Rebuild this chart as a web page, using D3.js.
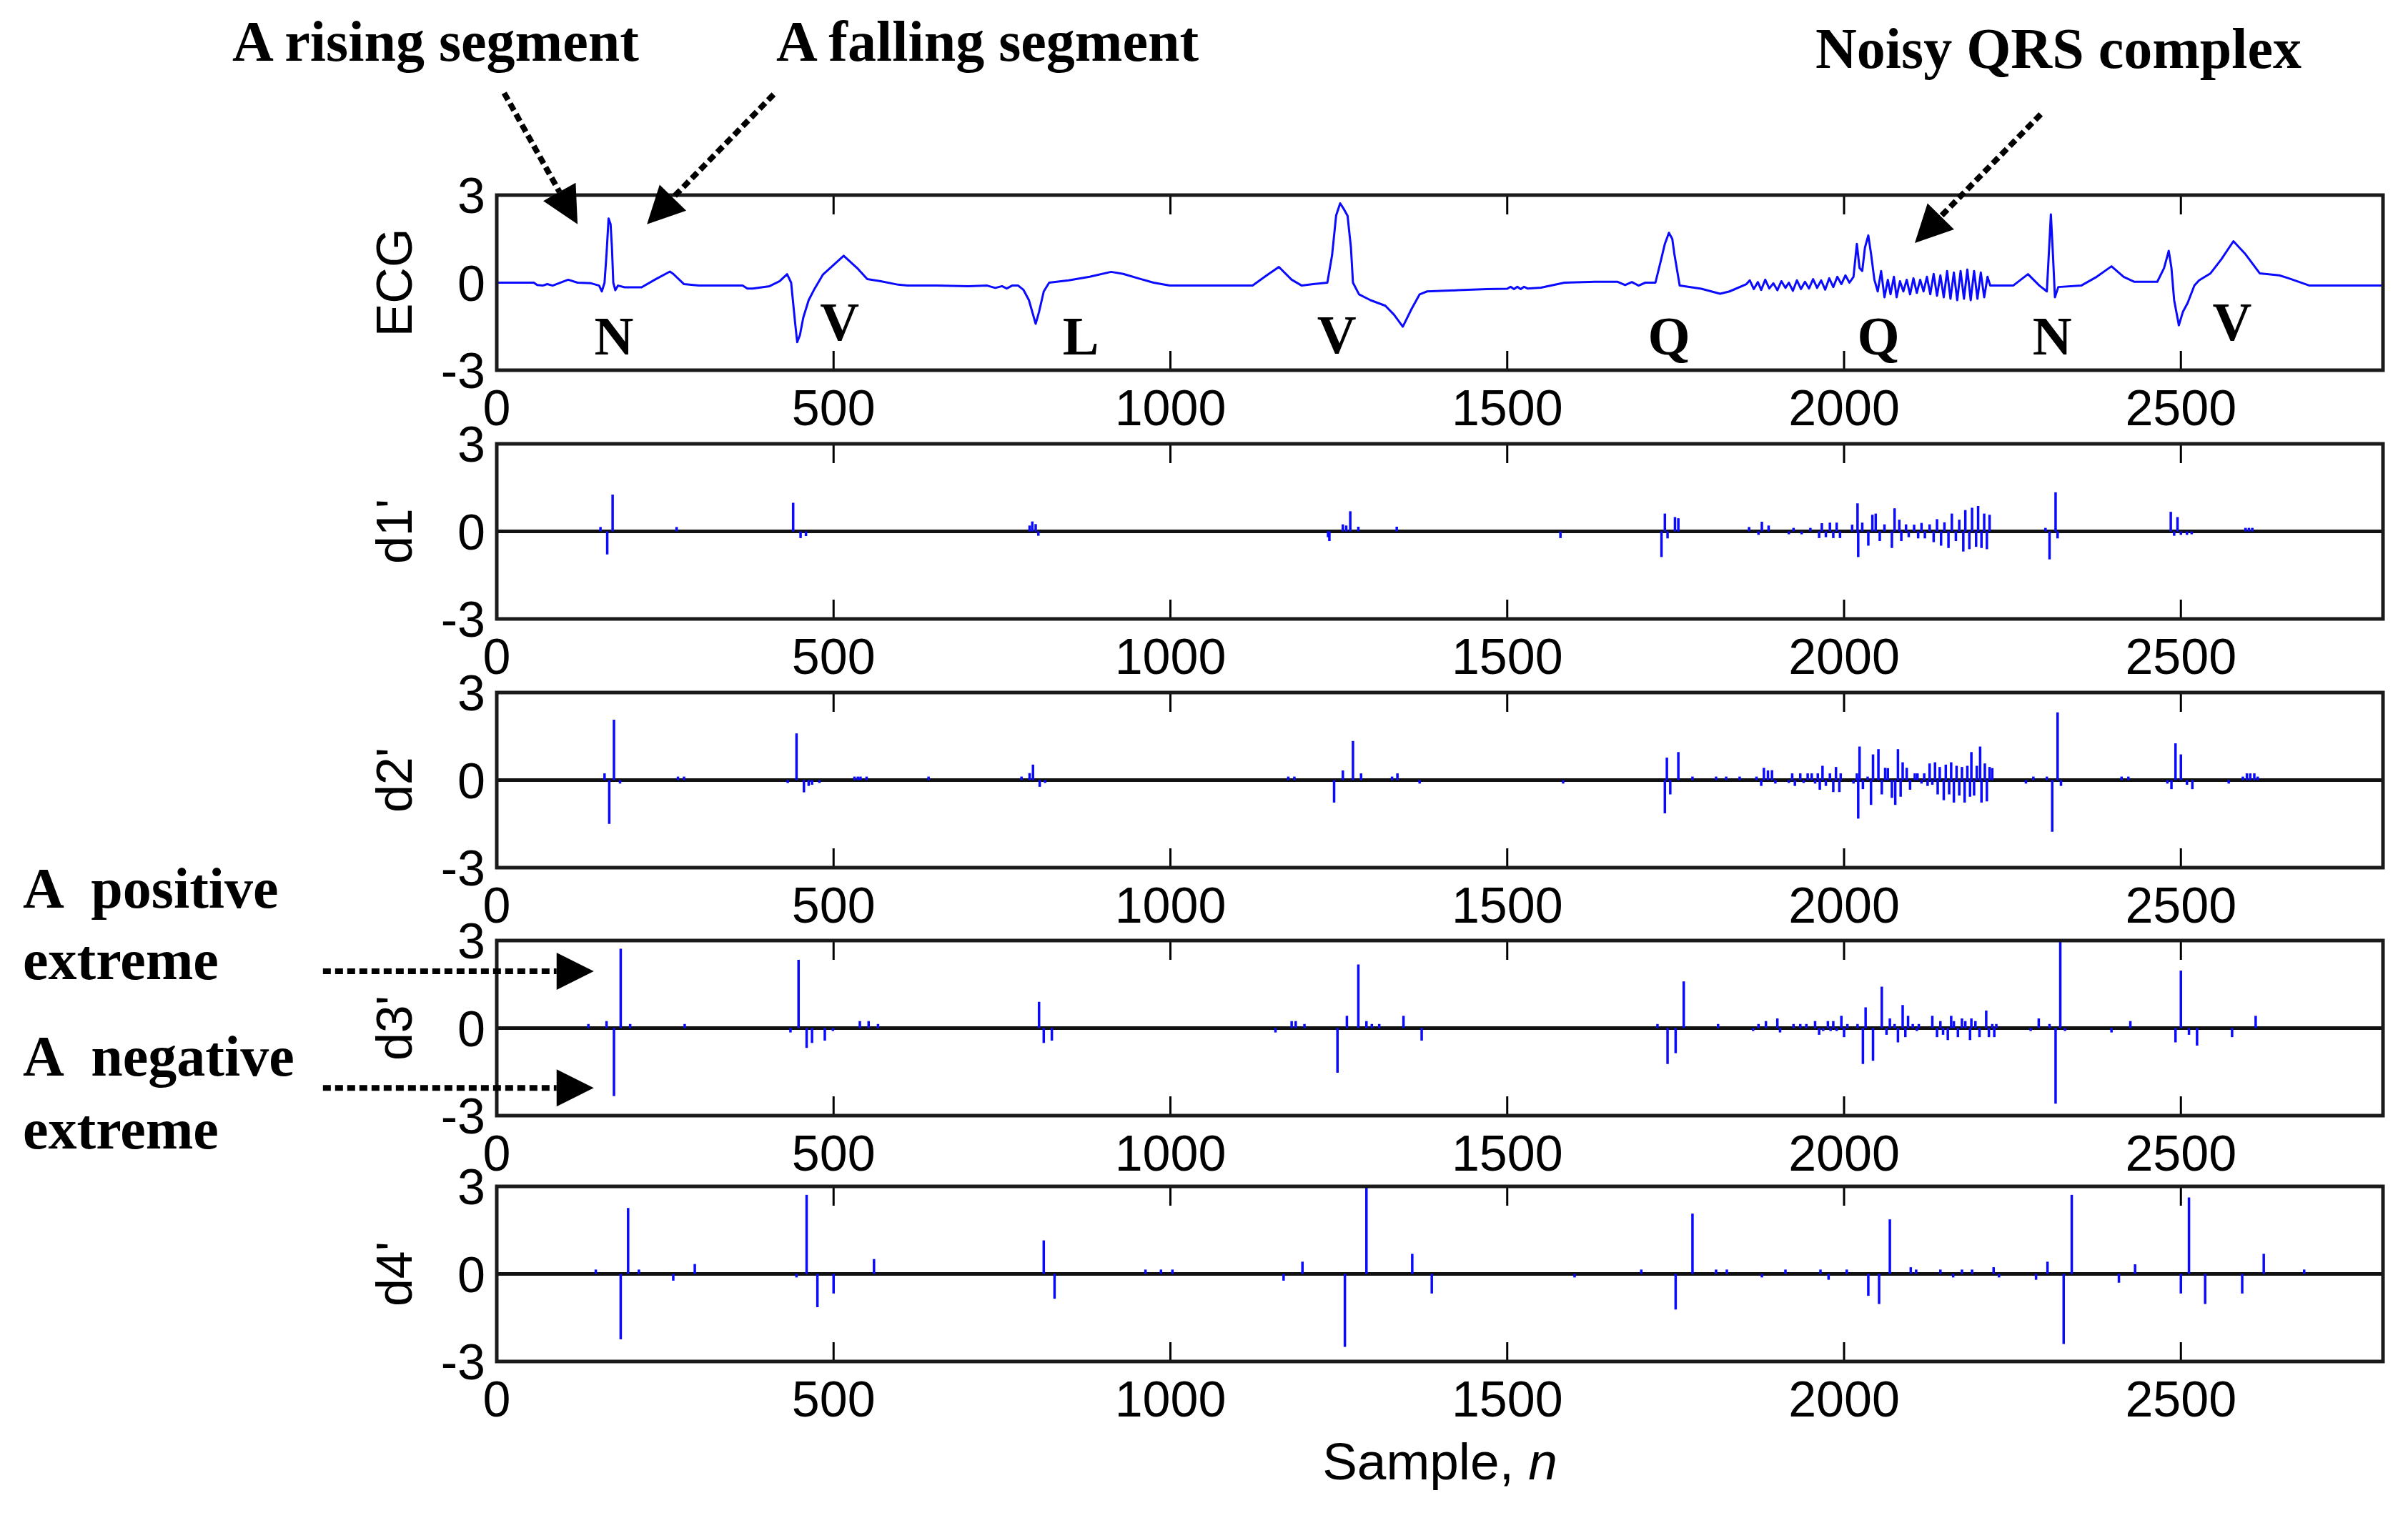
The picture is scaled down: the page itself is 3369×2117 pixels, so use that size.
<!doctype html>
<html lang="en">

<head>
    <meta charset="utf-8">
    <title>ECG and derivative extremes</title>
    <script src="https://cdn.jsdelivr.net/npm/d3@7"></script>
    <style>
        body { margin: 0; background: #ffffff; }
        svg { display: block; }
        .tick-label { font-family: "Liberation Sans", Arial, sans-serif; font-size: 70px; fill: #000; }
        .note { font-family: "Liberation Serif", "Times New Roman", serif; font-weight: bold; fill: #000; }
    </style>
</head>

<body>
    <svg></svg>
    <script>
        var width = 3369;
        var height = 2117;

        // ECG trace: [sample, amplitude]
        var ecg = [[0, 0], [40, 0], [55, 0], [60, -0.08], [68, -0.1], [75, -0.05], [83, -0.1], [92, -0.02], [106, 0.1], [120, 0.0],
            [140, -0.02], [152, -0.1], [156, -0.3], [160, 0.0], [163, 1.0], [166, 2.2], [169, 2.0], [171, 1.2], [173, 0.0], [176, -0.26],
            [180, -0.1], [190, -0.16], [215, -0.16], [236, 0.12], [257, 0.38], [262, 0.3], [278, -0.05], [300, -0.1], [365, -0.1],
            [372, -0.2], [380, -0.2], [405, -0.12], [420, 0.05], [431, 0.29], [437, 0.0], [443, -1.4], [446, -2.04], [450, -1.8],
            [455, -1.2], [463, -0.6], [472, -0.2], [484, 0.27], [515, 0.92], [535, 0.5], [550, 0.12], [570, 0.05], [596, -0.07],
            [610, -0.1], [653, -0.1], [700, -0.12], [728, -0.1], [740, -0.18], [750, -0.12], [757, -0.2], [765, -0.1], [774, -0.1],
            [782, -0.25], [790, -0.6], [800, -1.41], [805, -1.0], [812, -0.3], [820, 0.0], [849, 0.08], [880, 0.2], [912, 0.37],
            [930, 0.3], [952, 0.15], [975, 0.0], [999, -0.1], [1065, -0.1], [1122, -0.1], [1140, 0.2], [1161, 0.54], [1180, 0.1],
            [1195, -0.1], [1212, -0.05], [1233, 0.0], [1240, 0.94], [1246, 2.3], [1252, 2.72], [1258, 2.5], [1263, 2.29], [1268, 1.2],
            [1271, 0.0], [1280, -0.4], [1297, -0.6], [1319, -0.79], [1332, -1.1], [1345, -1.51], [1358, -0.9], [1370, -0.4],
            [1381, -0.3], [1427, -0.26], [1470, -0.22], [1500, -0.21], [1505, -0.14], [1510, -0.22], [1515, -0.14], [1520, -0.22],
            [1525, -0.14], [1530, -0.2], [1550, -0.17], [1585, 0.0], [1630, 0.03], [1664, 0.03], [1675, -0.08], [1685, 0.02],
            [1695, -0.1], [1705, 0.0], [1720, 0.0], [1728, 0.75], [1734, 1.33], [1740, 1.71], [1745, 1.5], [1748, 1.0], [1756, -0.1],
            [1788, -0.21], [1816, -0.38], [1830, -0.3], [1855, -0.05],
            [1860, 0.08], [1866, -0.22], [1872, 0.02], [1877, -0.25], [1883, 0.1], [1889, -0.2], [1895, -0.02], [1901, -0.26],
            [1907, 0.05], [1913, -0.18], [1918, 0.0], [1924, -0.28], [1930, 0.08], [1936, -0.22], [1942, 0.03], [1948, -0.2],
            [1954, 0.12], [1960, -0.18], [1966, 0.08], [1972, -0.24], [1978, 0.15], [1984, -0.15], [1990, 0.2], [1996, -0.05],
            [2002, 0.25], [2008, 0.0], [2014, 0.2],
            [2019, 1.33], [2023, 0.5], [2027, 0.4], [2031, 1.2], [2036, 1.62], [2040, 1.0], [2045, 0.1], [2050, -0.3],
            [2055, 0.4], [2060, -0.5], [2065, 0.1], [2069, -0.4], [2074, 0.2], [2078, -0.5], [2083, 0.05], [2088, -0.3],
            [2093, 0.1], [2098, -0.4], [2103, 0.15], [2108, -0.35], [2113, 0.1], [2118, -0.3], [2123, 0.2], [2128, -0.4],
            [2133, 0.3], [2138, -0.45], [2143, 0.25], [2148, -0.5], [2153, 0.4], [2158, -0.55], [2163, 0.35], [2168, -0.6],
            [2173, 0.4], [2178, -0.55], [2183, 0.45], [2188, -0.6], [2193, 0.4], [2198, -0.55], [2203, 0.35], [2208, -0.5],
            [2213, 0.2], [2217, -0.1],
            [2251, -0.1], [2273, 0.29], [2290, -0.1], [2301, -0.3], [2304, 1.0], [2307, 2.34], [2310, 1.0], [2313, -0.5],
            [2318, -0.15], [2352, -0.1], [2375, 0.2], [2397, 0.56], [2415, 0.2], [2431, 0.03], [2465, 0.03], [2475, 0.5],
            [2482, 1.09], [2486, 0.5], [2490, -0.6], [2497, -1.46], [2503, -1.0], [2510, -0.7], [2520, -0.1], [2527, 0.08],
            [2544, 0.32], [2560, 0.8], [2578, 1.42], [2595, 1.0], [2617, 0.32], [2646, 0.25], [2660, 0.15], [2691, -0.1], [2800, -0.1]];

        // derivative extremes: [sample, value]
        var d1 = [[154, 0.15], [164, -0.79], [172, 1.26], [267, 0.15], [440, 0.98], [451, -0.23], [459, -0.16], [791, 0.2],
            [795, 0.34], [800, 0.25], [804, -0.15], [1234, -0.2], [1236, -0.33], [1256, 0.24], [1261, 0.2], [1267, 0.69],
            [1279, 0.16], [1336, 0.16], [1579, -0.23], [1729, -0.88], [1734, 0.61], [1738, -0.24], [1749, 0.49], [1754, 0.45],
            [1859, 0.15], [1873, -0.12], [1878, 0.33], [1888, 0.2], [1918, -0.1], [1925, 0.12], [1937, -0.1], [1950, 0.12],
            [1963, -0.23], [1967, 0.28], [1973, -0.2], [1979, 0.3], [1984, -0.23], [1989, 0.3], [1994, -0.23], [2012, 0.23],
            [2020, 0.96], [2021, -0.88], [2027, 0.3], [2036, -0.49], [2042, 0.57], [2047, 0.61], [2053, -0.33], [2060, 0.24],
            [2071, -0.57], [2075, 0.79], [2082, 0.4], [2085, -0.33], [2092, 0.24], [2096, -0.2], [2104, 0.23], [2110, -0.24],
            [2115, 0.29], [2120, -0.24], [2127, 0.24], [2133, -0.37], [2138, 0.42], [2144, -0.49], [2149, 0.31], [2155, -0.57],
            [2160, 0.61], [2166, -0.33], [2171, 0.4], [2177, -0.69], [2180, 0.73], [2186, -0.61], [2190, 0.81], [2196, -0.53],
            [2199, 0.87], [2204, -0.57], [2208, 0.61], [2212, -0.61], [2216, 0.57], [2299, 0.12], [2305, -0.96], [2314, 1.34],
            [2317, -0.24], [2485, 0.67], [2490, -0.15], [2495, 0.49], [2500, -0.12], [2509, -0.12], [2516, -0.1], [2596, 0.12],
            [2601, 0.12], [2606, 0.12]];

        var d2 = [[160, 0.23], [167, -1.5], [174, 2.07], [183, -0.12], [269, 0.12], [278, 0.12], [432, -0.1], [445, 1.6],
            [456, -0.42], [463, -0.2], [468, -0.16], [479, -0.1], [531, 0.12], [536, 0.12], [540, 0.12], [549, 0.12], [641, 0.12],
            [779, 0.12], [791, 0.24], [796, 0.53], [806, -0.23], [814, -0.1], [1175, 0.12], [1184, 0.12], [1243, -0.77],
            [1256, 0.33], [1271, 1.34], [1283, 0.23], [1329, 0.12], [1337, 0.23], [1370, -0.12], [1583, -0.12], [1734, -1.14],
            [1737, 0.77], [1742, -0.49], [1754, 0.96], [1775, 0.12], [1810, 0.12], [1825, 0.12], [1845, 0.12],
            [1870, 0.12], [1877, -0.2], [1881, 0.42], [1887, 0.33], [1893, 0.34], [1898, -0.12], [1918, -0.1], [1923, 0.23],
            [1927, -0.2], [1935, 0.23], [1940, -0.1], [1946, 0.23], [1952, 0.23], [1957, -0.12], [1961, 0.23], [1964, -0.33],
            [1968, 0.49], [1973, -0.2], [1979, 0.23], [1984, -0.41], [1988, 0.45], [1993, -0.41], [1995, 0.23], [2014, -0.12],
            [2019, 0.23], [2021, -1.32], [2023, 1.15], [2028, -0.31], [2035, 0.12], [2040, -0.85], [2043, 0.88], [2051, 1.06],
            [2056, -0.49], [2061, 0.42], [2065, 0.41], [2071, -0.61], [2076, -0.85], [2080, 1.06], [2084, -0.57], [2087, 0.61],
            [2093, 0.42], [2098, -0.33], [2105, 0.23], [2109, 0.23], [2115, -0.12], [2119, 0.23], [2124, -0.2], [2127, 0.57],
            [2131, -0.16], [2135, 0.61], [2139, -0.49], [2142, 0.45], [2148, -0.69], [2151, 0.53], [2156, -0.49], [2159, 0.61],
            [2163, -0.77], [2167, 0.49], [2171, -0.53], [2175, 0.45], [2179, -0.77], [2183, 0.49], [2187, -0.57], [2189, 0.96],
            [2193, -0.53], [2197, 0.49], [2202, 1.15], [2204, -0.77], [2209, 0.57], [2212, -0.73], [2216, 0.45], [2220, 0.41],
            [2270, -0.12], [2281, 0.12], [2301, 0.12], [2309, -1.77], [2317, 2.32], [2322, -0.2], [2412, 0.12], [2422, 0.12],
            [2480, -0.12], [2486, -0.31], [2492, 1.26], [2500, 0.88], [2509, -0.16], [2517, -0.31], [2571, -0.12], [2592, 0.12],
            [2598, 0.23], [2603, 0.23], [2609, 0.23], [2614, 0.12]];

        var d3v = [[136, 0.14], [163, 0.24], [174, -2.33], [184, 2.72], [198, 0.14], [279, 0.14], [436, -0.15], [448, 2.34],
            [460, -0.68], [468, -0.51], [487, -0.43], [499, -0.1], [539, 0.24], [552, 0.24], [566, 0.14], [805, 0.9], [812, -0.51],
            [824, -0.43], [1156, -0.15], [1180, 0.24], [1186, 0.24], [1199, 0.14], [1248, -1.53], [1262, 0.42], [1279, 2.18],
            [1291, 0.24], [1299, 0.14], [1310, 0.14], [1346, 0.42], [1373, -0.43], [1723, 0.14], [1738, -1.23], [1750, -0.86],
            [1762, 1.6], [1813, 0.14], [1865, -0.1], [1873, 0.14], [1884, 0.24], [1901, 0.33], [1905, -0.15], [1925, 0.14],
            [1935, 0.14], [1944, 0.14], [1957, 0.24], [1963, -0.23], [1969, -0.1], [1976, 0.24], [1980, -0.1], [1984, 0.24],
            [1989, -0.1], [1996, 0.42], [2000, -0.31], [2005, 0.14], [2020, 0.14], [2028, -1.23], [2032, 0.71], [2043, -1.12],
            [2056, 1.42], [2063, -0.23], [2068, 0.33], [2075, 0.14], [2080, -0.49], [2087, 0.79], [2091, -0.31], [2095, 0.42],
            [2102, 0.14], [2108, -0.1], [2111, 0.14], [2131, 0.42], [2138, -0.31], [2143, 0.24], [2147, -0.23], [2154, -0.41],
            [2159, 0.42], [2163, 0.24], [2169, -0.31], [2175, 0.33], [2180, 0.24], [2187, -0.41], [2189, 0.33], [2195, 0.24],
            [2201, -0.31], [2211, 0.6], [2215, -0.31], [2220, 0.14], [2223, -0.31], [2226, 0.14], [2277, -0.1], [2289, 0.33],
            [2305, 0.14], [2314, -2.59], [2321, 3.0], [2328, -0.1], [2397, -0.15], [2425, 0.24], [2492, -0.49], [2500, 1.97],
            [2512, -0.23], [2524, -0.6], [2576, -0.31], [2611, 0.42]];

        var d4 = [[147, 0.15], [184, -2.24], [195, 2.26], [211, 0.15], [262, -0.23], [294, 0.34], [445, -0.12], [460, 2.71],
            [476, -1.14], [500, -0.67], [560, 0.51], [812, 1.15], [828, -0.85], [963, 0.15], [986, 0.15], [1003, 0.15],
            [1168, -0.23], [1196, 0.42], [1259, -2.5], [1291, 3.0], [1359, 0.69], [1388, -0.67], [1600, -0.12], [1699, 0.15],
            [1750, -1.22], [1775, 2.07], [1810, 0.15], [1826, 0.15], [1878, -0.12], [1913, 0.15], [1965, 0.15], [1977, -0.2],
            [2004, 0.15], [2036, -0.75], [2052, -1.03], [2068, 1.87], [2099, 0.23], [2107, 0.15], [2143, 0.15], [2162, -0.12],
            [2175, 0.15], [2190, 0.15], [2222, 0.23], [2230, -0.12], [2285, -0.2], [2302, 0.42], [2326, -2.4], [2338, 2.71],
            [2408, -0.3], [2432, 0.33], [2500, -0.67], [2512, 2.62], [2536, -1.03], [2591, -0.67], [2623, 0.69], [2683, 0.15]];

        var panelNames = ["ECG", "d1'", "d2'", "d3'", "d4'"];
        var xTicks = [0, 500, 1000, 1500, 2000, 2500];
        var yTicks = [3, 0, -3];

        // beat labels under the ECG trace: [label, sample, amplitude]
        var beatLabels = [["N", 174, -2.46], ["V", 509, -1.97], ["L", 867, -2.46], ["V", 1247, -2.42],
            ["Q", 1740, -2.46], ["Q", 2051, -2.46], ["N", 2309, -2.46], ["V", 2576, -1.97]];

        var svg = d3.select("svg").attr("width", width).attr("height", height);

        var panelTop = [273, 621, 969, 1316, 1660];
        var panelH = 245;
        var x = d3.scaleLinear().domain([0, 2800]).range([695, 3334]);
        var yScales = panelTop.map(function (t) {
            return d3.scaleLinear().domain([-3, 3]).range([t + panelH, t]);
        });

        var stemSets = [null, d1, d2, d3v, d4];

        panelTop.forEach(function (top, i) {
            var y = yScales[i];
            var g = svg.append("g");
            var bottom = top + panelH;

            if (i === 0) {
                var line = d3.line()
                    .x(function (d) { return x(d[0]); })
                    .y(function (d) { return y(d[1]); });
                g.append("path").datum(ecg)
                    .attr("d", line)
                    .attr("fill", "none")
                    .attr("stroke", "#0a0aff")
                    .attr("stroke-width", 3)
                    .attr("stroke-linejoin", "round");
            } else {
                // baseline
                g.append("line")
                    .attr("x1", x(0)).attr("x2", x(2800))
                    .attr("y1", y(0)).attr("y2", y(0))
                    .attr("stroke", "#111").attr("stroke-width", 5);
                g.selectAll("line.stem")
                    .data(stemSets[i])
                    .enter()
                    .append("line")
                    .attr("class", "stem")
                    .attr("x1", function (d) { return x(d[0]); })
                    .attr("x2", function (d) { return x(d[0]); })
                    .attr("y1", y(0))
                    .attr("y2", function (d) { return y(d[1]); })
                    .attr("stroke", "#0a0aff")
                    .attr("stroke-width", 3.5);
            }

            // inward ticks top and bottom
            g.selectAll("line.tk")
                .data(xTicks.slice(1))
                .enter()
                .append("line")
                .attr("x1", function (d) { return x(d); })
                .attr("x2", function (d) { return x(d); })
                .attr("y1", top).attr("y2", top + 27)
                .attr("stroke", "#000").attr("stroke-width", 3);
            g.selectAll("line.bk")
                .data(xTicks.slice(1))
                .enter()
                .append("line")
                .attr("x1", function (d) { return x(d); })
                .attr("x2", function (d) { return x(d); })
                .attr("y1", bottom).attr("y2", bottom - 27)
                .attr("stroke", "#000").attr("stroke-width", 3);

            // frame
            g.append("rect")
                .attr("x", x(0)).attr("y", top)
                .attr("width", x(2800) - x(0)).attr("height", panelH)
                .attr("fill", "none")
                .attr("stroke", "#1a1a1a")
                .attr("stroke-width", 5);

            // x tick labels
            g.selectAll("text.xl")
                .data(xTicks)
                .enter()
                .append("text")
                .attr("class", "tick-label")
                .attr("text-anchor", "middle")
                .attr("x", function (d) { return x(d); })
                .attr("y", bottom + 77)
                .text(function (d) { return d; });

            // y tick labels
            g.selectAll("text.yl")
                .data(yTicks)
                .enter()
                .append("text")
                .attr("class", "tick-label")
                .attr("text-anchor", "end")
                .attr("x", 679)
                .attr("y", function (d) { return y(d) + 25; })
                .text(function (d) { return d; });

            // panel name
            g.append("text")
                .attr("class", "tick-label")
                .attr("text-anchor", "middle")
                .attr("transform", "translate(576," + y(0) + ") rotate(-90)")
                .text(panelNames[i]);
        });

        // x axis title
        var xt = svg.append("text")
            .attr("class", "tick-label")
            .attr("text-anchor", "middle")
            .attr("x", x(1400))
            .attr("y", 2070)
            .style("font-size", "73px");
        xt.append("tspan").text("Sample, ");
        xt.append("tspan").style("font-style", "italic").text("n");

        // beat type letters
        svg.selectAll("text.beat")
            .data(beatLabels)
            .enter()
            .append("text")
            .attr("class", "note")
            .attr("text-anchor", "middle")
            .attr("x", function (d) { return x(d[1]); })
            .attr("y", function (d) { return yScales[0](d[2]); })
            .style("font-size", "76px")
            .text(function (d) { return d[0]; });

        // annotation texts
        var notes = [
            { t: "A rising segment", x: 325, y: 85 },
            { t: "A falling segment", x: 1086, y: 85 },
            { t: "Noisy QRS complex", x: 2540, y: 95 },
            { t: "A positive", x: 32, y: 1270 },
            { t: "extreme", x: 32, y: 1370 },
            { t: "A negative", x: 32, y: 1505 },
            { t: "extreme", x: 32, y: 1607 }
        ];
        svg.selectAll("text.nt")
            .data(notes)
            .enter()
            .append("text")
            .attr("class", "note")
            .attr("x", function (d) { return d.x; })
            .attr("y", function (d) { return d.y; })
            .style("font-size", "80px")
            .style("word-spacing", function (d) { return d.x < 100 ? "22px" : "0px"; })
            .text(function (d) { return d.t; });

        // dotted arrows: [panel, fromSample, fromValue, toSample, toValue]
        var arrows = [[0, 11, 6.5, 120, 2.0], [0, 411, 6.45, 223, 2.0], [0, 2292, 5.77, 2105, 1.36],
            [3, -258, 1.95, 144, 1.95], [3, -258, -2.05, 144, -2.05]];
        var headLen = 52, headHalf = 26;
        arrows.forEach(function (a) {
            var y = yScales[a[0]];
            var x0 = x(a[1]), y0 = y(a[2]), x1 = x(a[3]), y1 = y(a[4]);
            var dx = x1 - x0, dy = y1 - y0, len = Math.sqrt(dx * dx + dy * dy);
            var ux = dx / len, uy = dy / len;
            var bx = x1 - ux * headLen, by = y1 - uy * headLen;
            svg.append("line")
                .attr("x1", x0).attr("y1", y0).attr("x2", bx).attr("y2", by)
                .attr("stroke", "#000").attr("stroke-width", 8)
                .attr("stroke-dasharray", "11,6");
            svg.append("polygon")
                .attr("points", [[x1, y1], [bx - uy * headHalf, by + ux * headHalf], [bx + uy * headHalf, by - ux * headHalf]]
                    .map(function (p) { return p.join(","); }).join(" "))
                .attr("fill", "#000");
        });
    </script>

</body>

</html>
